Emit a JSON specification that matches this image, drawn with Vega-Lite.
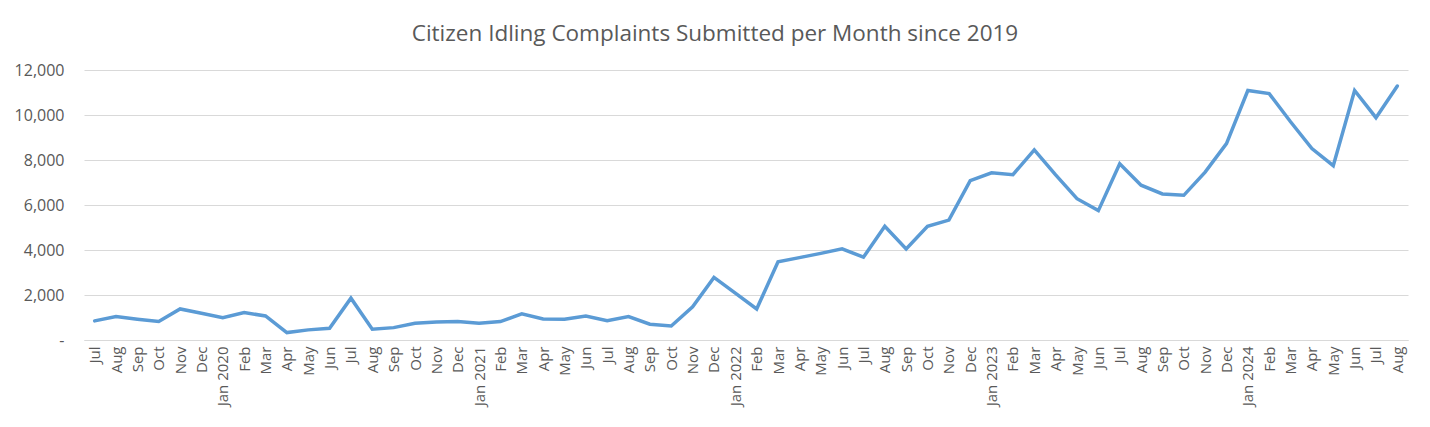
{
  "$schema": "https://vega.github.io/schema/vega-lite/v6.json",
  "width": 1324,
  "height": 270,
  "autosize": {"type": "none"},
  "padding": {"left": 84, "top": 70, "right": 22, "bottom": 87},
  "background": "white",
  "title": {
    "text": "Citizen Idling Complaints Submitted per Month since 2019",
    "font": "Open Sans",
    "fontSize": 22.5,
    "fontWeight": "normal",
    "color": "#595959",
    "anchor": "middle",
    "dx": -31,
    "offset": 17
  },
  "data": {
    "values": [
      {"month": "2019-07", "complaints": 850},
      {"month": "2019-08", "complaints": 1040},
      {"month": "2019-09", "complaints": 920},
      {"month": "2019-10", "complaints": 820},
      {"month": "2019-11", "complaints": 1380},
      {"month": "2019-12", "complaints": 1190},
      {"month": "2020-01", "complaints": 990},
      {"month": "2020-02", "complaints": 1220},
      {"month": "2020-03", "complaints": 1070},
      {"month": "2020-04", "complaints": 330},
      {"month": "2020-05", "complaints": 450},
      {"month": "2020-06", "complaints": 520},
      {"month": "2020-07", "complaints": 1860},
      {"month": "2020-08", "complaints": 480},
      {"month": "2020-09", "complaints": 550},
      {"month": "2020-10", "complaints": 740},
      {"month": "2020-11", "complaints": 800},
      {"month": "2020-12", "complaints": 820},
      {"month": "2021-01", "complaints": 740},
      {"month": "2021-02", "complaints": 820},
      {"month": "2021-03", "complaints": 1160},
      {"month": "2021-04", "complaints": 930},
      {"month": "2021-05", "complaints": 920},
      {"month": "2021-06", "complaints": 1070},
      {"month": "2021-07", "complaints": 860},
      {"month": "2021-08", "complaints": 1040},
      {"month": "2021-09", "complaints": 700},
      {"month": "2021-10", "complaints": 620},
      {"month": "2021-11", "complaints": 1480},
      {"month": "2021-12", "complaints": 2780},
      {"month": "2022-01", "complaints": 2080},
      {"month": "2022-02", "complaints": 1380},
      {"month": "2022-03", "complaints": 3480},
      {"month": "2022-04", "complaints": 3660},
      {"month": "2022-05", "complaints": 3850},
      {"month": "2022-06", "complaints": 4050},
      {"month": "2022-07", "complaints": 3680},
      {"month": "2022-08", "complaints": 5050},
      {"month": "2022-09", "complaints": 4050},
      {"month": "2022-10", "complaints": 5050},
      {"month": "2022-11", "complaints": 5330},
      {"month": "2022-12", "complaints": 7080},
      {"month": "2023-01", "complaints": 7430},
      {"month": "2023-02", "complaints": 7350},
      {"month": "2023-03", "complaints": 8450},
      {"month": "2023-04", "complaints": 7340},
      {"month": "2023-05", "complaints": 6280},
      {"month": "2023-06", "complaints": 5750},
      {"month": "2023-07", "complaints": 7830},
      {"month": "2023-08", "complaints": 6880},
      {"month": "2023-09", "complaints": 6490},
      {"month": "2023-10", "complaints": 6430},
      {"month": "2023-11", "complaints": 7460},
      {"month": "2023-12", "complaints": 8730},
      {"month": "2024-01", "complaints": 11090},
      {"month": "2024-02", "complaints": 10950},
      {"month": "2024-03", "complaints": 9700},
      {"month": "2024-04", "complaints": 8510},
      {"month": "2024-05", "complaints": 7750},
      {"month": "2024-06", "complaints": 11090},
      {"month": "2024-07", "complaints": 9880},
      {"month": "2024-08", "complaints": 11290}
    ]
  },
  "mark": {"type": "line", "color": "#5b9bd5", "strokeWidth": 3.5, "strokeJoin": "miter", "strokeCap": "round"},
  "encoding": {
    "x": {
      "field": "month",
      "type": "ordinal",
      "sort": null,
      "scale": {"type": "point", "padding": 0.5},
      "axis": {
        "title": null,
        "labelAngle": -90,
        "labelFont": "Open Sans",
        "labelFontSize": 15,
        "labelColor": "#595959",
        "labelPadding": 6,
        "ticks": false,
        "domainColor": "#d9d9d9",
        "domainWidth": 1,
        "grid": false,
        "labelExpr": "['Jan','Feb','Mar','Apr','May','Jun','Jul','Aug','Sep','Oct','Nov','Dec'][toNumber(slice(datum.value,5))-1] + (slice(datum.value,5)=='01' ? ' ' + slice(datum.value,0,4) : '')"
      }
    },
    "y": {
      "field": "complaints",
      "type": "quantitative",
      "scale": {"domain": [0, 12000], "nice": false},
      "axis": {
        "title": null,
        "values": [0, 2000, 4000, 6000, 8000, 10000, 12000],
        "labelFont": "Open Sans",
        "labelFontSize": 16,
        "labelColor": "#595959",
        "labelPadding": 20,
        "ticks": false,
        "domain": false,
        "grid": true,
        "gridColor": "#d9d9d9",
        "gridWidth": 1,
        "labelExpr": "datum.value == 0 ? '-\u00a0\u00a0\u00a0\u00a0\u00a0' : format(datum.value, ',')"
      }
    }
  },
  "config": {
    "view": {"stroke": null}
  }
}
